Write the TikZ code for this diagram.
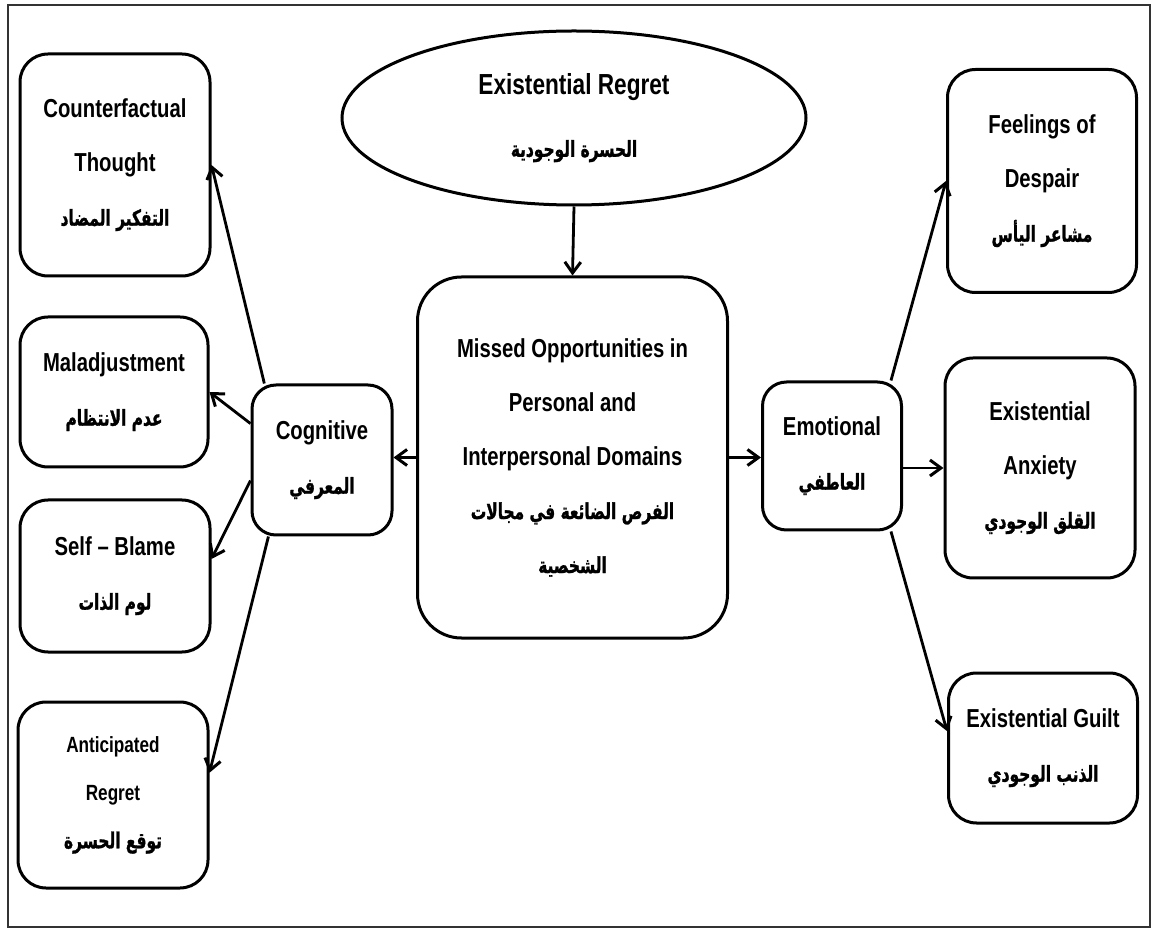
\documentclass[tikz,border=0pt]{standalone}
\usepackage{fontspec}
\setmainfont{Liberation Sans}[FakeStretch=0.78]
\newfontfamily\arabicfont[Script=Arabic,FakeStretch=0.7,FakeBold=1.2]{DejaVu Sans}
\TeXXeTstate=1
\usetikzlibrary{
    arrows.meta,
    shapes.geometric
}
\newcommand{\arb}[1]{{\arabicfont\fontsize{11}{27}\selectfont\beginR #1\endR}}
\tikzset{
    % Boxes
    box/.style={draw,line width=1.5pt,rounded corners=#1,align=center,inner sep=0pt},
    box/.default=14pt,
    oval/.style={ellipse,draw,line width=1.5pt,align=center,inner sep=0pt},
    frame/.style={line width=1.3pt,black!80},
    %
    % Arrows
    arrow tip/.tip={Straight Barb[length=5.5pt,width=8pt,line width=1.5pt]},
    arr/.style={->,>={arrow tip},line width=1.4pt},
}
\tikzstyle{every node}=[font=\bfseries\fontsize{13}{27}\selectfont]

\begin{document}
\begin{tikzpicture}[x=0.5pt,y=-0.5pt]
    \useasboundingbox (0,0) rectangle (1152,930);
    \draw[frame] (8,5) rectangle (1150,927);
    % middle column
    \node[oval,minimum width=232pt,minimum height=87pt,
          font=\bfseries\fontsize{14.5}{31}\selectfont] (Regret) at (574,118)
        {Existential Regret\\ \arb{الحسرة الوجودية}};
    \node[box=22pt,minimum width=155pt,minimum height=180.5pt] (Missed) at (572.5,457.5)
        {Missed Opportunities in\\ Personal and\\ Interpersonal Domains\\
         \arb{الفرص الضائعة في مجالات}\\ \arb{الشخصية}};
    \node[box=12pt,minimum width=70pt,minimum height=75pt] (Cognitive) at (322,460)
        {Cognitive\\ \arb{المعرفي}};
    \node[box=12pt,minimum width=69.5pt,minimum height=74pt] (Emotional) at (832,456)
        {Emotional\\ \arb{العاطفي}};
    % left column
    \node[box,minimum width=95pt,minimum height=111pt] (Counterfactual) at (115,165)
        {Counterfactual\\ Thought\\ \arb{التفكير المضاد}};
    \node[box,minimum width=94pt,minimum height=75pt] (Maladjustment) at (114,392)
        {Maladjustment\\ \arb{عدم الانتظام}};
    \node[box,minimum width=95pt,minimum height=76pt] (Self Blame) at (115,576)
        {Self -- Blame\\ \arb{لوم الذات}};
    \node[box,minimum width=95pt,minimum height=93pt,
          font=\bfseries\fontsize{11}{24}\selectfont] (Anticipated) at (113,795)
        {Anticipated\\ Regret\\ \arb{توقع الحسرة}};
    % right column
    \node[box,minimum width=94.5pt,minimum height=111.5pt] (Despair) at (1042,181)
        {Feelings of\\ Despair\\ \arb{مشاعر اليأس}};
    \node[box,minimum width=95pt,minimum height=110pt] (Anxiety) at (1040,468)
        {Existential\\ Anxiety\\ \arb{القلق الوجودي}};
    \node[box,minimum width=94.5pt,minimum height=75pt] (Guilt) at (1043,748)
        {Existential Guilt\\ \arb{الذنب الوجودي}};
    % connectors
    \draw[arr] (Regret.south) -- (Missed.north);
    \draw[arr] (Missed.west) -- (Missed.west -| Cognitive.east);
    \draw[arr] (Missed.east) -- (Missed.east -| Emotional.west);
    \draw[arr] (Cognitive.127) -- (Counterfactual.east);
    \draw[arr] (Cognitive.153) -- (Maladjustment.east);
    \draw[arr] (Cognitive.196) -- (Self Blame.10);
    \draw[arr] (Cognitive.235) -- (Anticipated.13);
    \draw[arr] (Emotional.52) -- (Despair.west);
    \draw[arr] (Anxiety.west -| Emotional.east) -- (Anxiety.west);
    \draw[arr] (Emotional.-52) -- (Guilt.170);
\end{tikzpicture}
\end{document}
